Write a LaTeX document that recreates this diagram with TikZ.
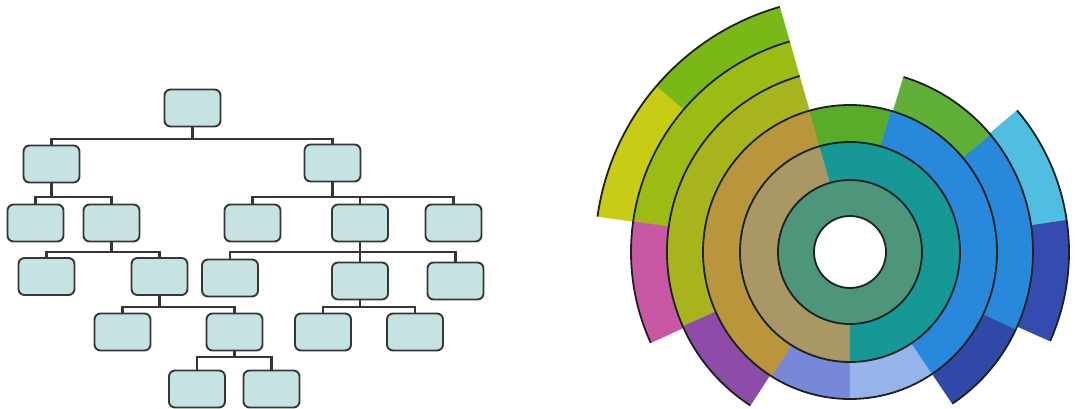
\documentclass[tikz,border=0pt]{standalone}
\usetikzlibrary{calc}
\definecolor{boxfill}{HTML}{C6E3E3}
\definecolor{boxline}{HTML}{363636}
\definecolor{ringline}{HTML}{1A2222}
\definecolor{cgg}{HTML}{4E967A}
\definecolor{ckhaki}{HTML}{AA9864}
\definecolor{cteal}{HTML}{169896}
\definecolor{corange}{HTML}{B9963C}
\definecolor{clav}{HTML}{7888D8}
\definecolor{clblue}{HTML}{96B4EB}
\definecolor{cblue}{HTML}{2888DC}
\definecolor{cgreenA}{HTML}{58AC28}
\definecolor{colive}{HTML}{A8B41E}
\definecolor{cpurple}{HTML}{8C4CA8}
\definecolor{cnavy}{HTML}{3048A8}
\definecolor{cgreenB}{HTML}{60B038}
\definecolor{coliveg}{HTML}{9CBC14}
\definecolor{cpink}{HTML}{C858A4}
\definecolor{ccyan}{HTML}{50BEE1}
\definecolor{cnavyB}{HTML}{344CB0}
\definecolor{cgreenC}{HTML}{7AB818}
\definecolor{cyellow}{HTML}{C8CC14}
\newcommand\sseg[5]{\filldraw[fill=#1,draw=#1,line width=0.3pt] (#2:#4pt) arc[start angle=#2,end angle=#3,radius=#4pt] -- (#3:#5pt) arc[start angle=#3,end angle=#2,radius=#5pt] -- cycle;}
\newcommand\rarc[3]{\draw[ringarc] (#1:#3pt) arc[start angle=#1,end angle=#2,radius=#3pt];}
\begin{document}
\begin{tikzpicture}[x=1pt,y=1pt,
  tbox/.style={draw=boxline,fill=boxfill,line width=1.9pt,rounded corners=6pt,minimum width=56pt,minimum height=37pt,inner sep=0pt},
  link/.style={draw=boxline,line width=2.2pt},
  ringarc/.style={draw=ringline,line width=1.8pt}]
\useasboundingbox (0,0) rectangle (1075,-409);
% ---------------- tree ----------------
\coordinate (y1) at (0,-139);
\coordinate (y2) at (0,-197);
\coordinate (y3) at (0,-252);
\coordinate (y4) at (0,-307);
\coordinate (y5) at (0,-357);
\node[tbox] (root) at (192.5,-108) {};
\node[tbox] (n1) at (51.5,-164) {};
\node[tbox] (n2) at (332.5,-163) {};
\node[tbox] (a) at (35.5,-223) {};
\node[tbox] (b) at (111.5,-223) {};
\node[tbox] (c) at (252.5,-223) {};
\node[tbox] (d) at (360,-223) {};
\node[tbox] (e) at (453.5,-223) {};
\node[tbox] (f) at (46.5,-276.5) {};
\node[tbox] (g) at (159.5,-276.5) {};
\node[tbox] (h) at (230,-278) {};
\node[tbox] (i) at (360,-281) {};
\node[tbox] (j) at (455.5,-281) {};
\node[tbox] (k) at (122.5,-332) {};
\node[tbox] (l) at (234.5,-332) {};
\node[tbox] (m) at (323,-332) {};
\node[tbox] (n) at (415,-332) {};
\node[tbox] (o) at (197,-389) {};
\node[tbox] (p) at (271.5,-389) {};
\foreach \pp/\ch/\yy in {root/n1/y1,root/n2/y1,n1/a/y2,n1/b/y2,n2/c/y2,n2/d/y2,n2/e/y2,
  b/f/y3,b/g/y3,d/h/y3,d/i/y3,d/j/y3,g/k/y4,g/l/y4,i/m/y4,i/n/y4,l/o/y5,l/p/y5}{
  \draw[link] (\pp.south) |- (\ch.north |- \yy) -- (\ch.north);
}
% ---------------- sunburst ----------------
\begin{scope}[shift={(850,-252)}]
\fill[cgg] (0,0) circle[radius=72pt];
% ring 2
\sseg{ckhaki}{106}{270}{72}{110}
\sseg{cteal}{270}{466}{72}{110}
% ring 3
\sseg{corange}{106}{238}{110}{147}
\sseg{clav}{238}{270}{110}{147}
\sseg{clblue}{270}{304}{110}{147}
\sseg{cblue}{304}{434}{110}{147}
\sseg{cgreenA}{434}{466}{110}{147}
% ring 4
\sseg{colive}{106}{204}{147}{183}
\sseg{cpurple}{204}{237}{147}{183}
\sseg{cnavy}{304}{335}{147}{183}
\sseg{cblue}{335}{400}{147}{183}
\sseg{cgreenB}{400}{433}{147}{183}
% ring 5
\sseg{coliveg}{106}{172}{183}{219}
\sseg{cpink}{172}{204.5}{183}{219}
\sseg{cnavyB}{336}{368.5}{183}{219}
\sseg{ccyan}{368.5}{400.3}{183}{219}
% ring 6
\sseg{cgreenC}{106}{139.5}{219}{255}
\sseg{cyellow}{139.5}{172}{219}{255}
% outlines
\draw[ringarc] (0,0) circle[radius=72pt];
\draw[ringarc] (0,0) circle[radius=110pt];
\draw[ringarc] (0,0) circle[radius=147pt];
\rarc{106}{237}{183}
\rarc{-56}{73}{183}
\rarc{106}{204.5}{219}
\rarc{-24}{40.3}{219}
\rarc{106}{172}{255}
\filldraw[fill=white,draw=ringline,line width=1.8pt] (0,0) circle[radius=36pt];
\end{scope}
\end{tikzpicture}
\end{document}
